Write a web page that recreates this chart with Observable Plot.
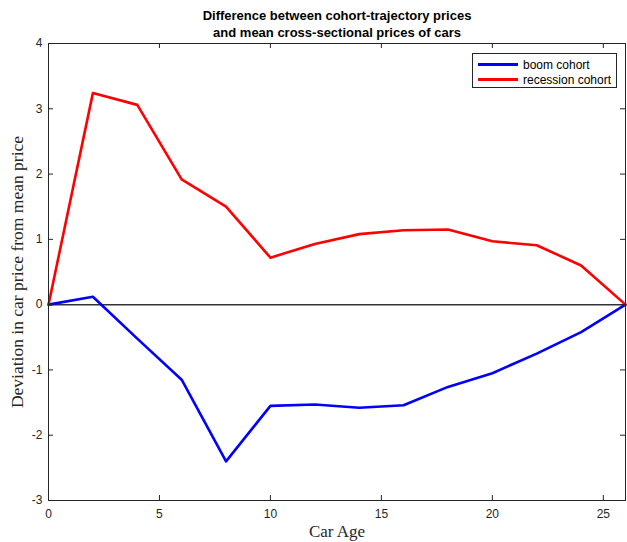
<!DOCTYPE html>
<html><head><meta charset="utf-8">
<script src="https://cdn.jsdelivr.net/npm/d3@7"></script>
<script src="https://cdn.jsdelivr.net/npm/@observablehq/plot@0.6"></script>
<style>
body{margin:0;background:#fff}
#wrap{position:relative;width:627px;height:542px;overflow:hidden}
#legend{position:absolute;left:472px;top:53px;width:145px;height:35px;border:1px solid #262626;background:#fff;font:12px "Liberation Sans",Helvetica,Arial,sans-serif;color:#000;box-sizing:border-box}
.row{position:absolute;left:5px;height:15px;display:flex;align-items:center}
.sw{width:40px;height:3px;margin-right:5px}
</style>
</head><body><div id="wrap"></div>
<script>
const ages = [0, 2, 4, 6, 8, 10, 12, 14, 16, 18, 20, 22, 24, 26];
const boom = [0, 0.12, -0.52, -1.15, -2.40, -1.55, -1.53, -1.58, -1.54, -1.26, -1.05, -0.75, -0.42, 0];
const recession = [0, 3.24, 3.06, 1.92, 1.50, 0.72, 0.93, 1.08, 1.14, 1.15, 0.97, 0.91, 0.60, 0];
const seriesNames = ["boom cohort", "recession cohort"];
const seriesColors = ["#0000ff", "#ff0000"];
const xTicks = [0, 5, 10, 15, 20, 25];
const yTicks = [-3, -2, -1, 0, 1, 2, 3, 4];
const titleLines = ["Difference between cohort-trajectory prices", "and mean cross-sectional prices of cars"];
const xLabel = "Car Age";
const yLabel = "Deviation in car price from mean price";

const data = [
  ...ages.map((a, i) => ({age: a, value: boom[i], series: seriesNames[0]})),
  ...ages.map((a, i) => ({age: a, value: recession[i], series: seriesNames[1]}))
];

const W = 627, H = 542, mL = 48, mR = 2, mT = 43, mB = 42;
const tick = 5;
const fw = W - mL - mR, fh = H - mT - mB;
const axisColor = "#262626";
const serif = '"Liberation Serif","DejaVu Serif",serif';

const chart = Plot.plot({
  width: W, height: H,
  marginLeft: mL, marginRight: mR, marginTop: mT, marginBottom: mB,
  style: {fontFamily: '"Liberation Sans", Helvetica, Arial, sans-serif', fontSize: "12px", color: axisColor, background: "#fff"},
  x: {domain: [0, 26]},
  y: {domain: [-3, 4]},
  color: {domain: seriesNames, range: seriesColors},
  marks: [
    Plot.ruleY([0], {stroke: "#333", strokeWidth: 1.5}),
    Plot.line(data, {x: "age", y: "value", stroke: "series", strokeWidth: 2.6}),
    Plot.frame({stroke: axisColor, strokeWidth: 1}),
    Plot.tickX(xTicks, {x: d => d, insetTop: fh - tick, stroke: axisColor}),
    Plot.tickX(xTicks, {x: d => d, insetBottom: fh - tick, stroke: axisColor}),
    Plot.tickY(yTicks, {y: d => d, insetLeft: fw - tick, stroke: axisColor}),
    Plot.tickY(yTicks, {y: d => d, insetRight: fw - tick, stroke: axisColor}),
    Plot.axisX({ticks: xTicks, tickSize: 0, tickPadding: 9, label: null, fontSize: 12, tickFormat: d => String(d)}),
    Plot.axisY({ticks: yTicks, tickSize: 0, tickPadding: 6, label: null, fontSize: 12, tickFormat: d => String(d)}),
    Plot.text([xLabel], {text: d => d, frameAnchor: "bottom", lineAnchor: "middle", dy: 31, fontSize: 17, fontFamily: serif, fill: axisColor}),
    Plot.text([yLabel], {text: d => d, frameAnchor: "left", textAnchor: "middle", lineAnchor: "middle", dx: -31, rotate: -90, fontSize: 17.5, fontFamily: serif, fill: axisColor}),
    Plot.text([titleLines[0]], {text: d => d, frameAnchor: "top", lineAnchor: "middle", dy: -28, fontSize: 13, fontWeight: "bold", fill: "#000"}),
    Plot.text([titleLines[1]], {text: d => d, frameAnchor: "top", lineAnchor: "middle", dy: -11, fontSize: 13, fontWeight: "bold", fill: "#000"})
  ]
});
const wrap = document.getElementById("wrap");
wrap.appendChild(chart);

const legend = document.createElement("div");
legend.id = "legend";
seriesNames.forEach((name, i) => {
  const row = document.createElement("div");
  row.className = "row";
  row.style.top = (3 + i * 15) + "px";
  const sw = document.createElement("div");
  sw.className = "sw";
  sw.style.background = seriesColors[i];
  const label = document.createElement("span");
  label.textContent = name;
  row.appendChild(sw); row.appendChild(label);
  legend.appendChild(row);
});
wrap.appendChild(legend);
</script>
</body></html>
